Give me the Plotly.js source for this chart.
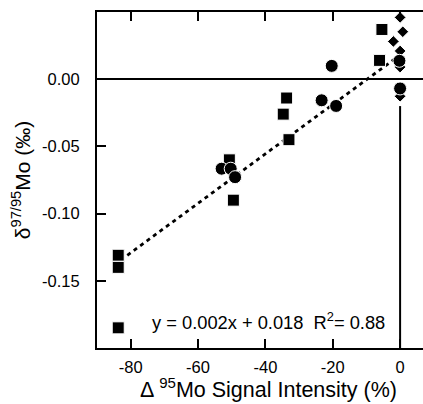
<!DOCTYPE html>
<html>
<head>
<meta charset="utf-8">
<script src="https://cdn.plot.ly/plotly-3.0.1.min.js"></script>
<style>html,body{margin:0;padding:0;background:#fff;}#chart{width:423px;height:404px;}</style>
</head>
<body>
<div id="chart"></div>
<script>
// Squares
const squaresX = [-83.7, -83.7, -83.7, -50.7, -49.5, -33.7, -34.7, -33.0, -5.4, -6.1];
const squaresY = [-0.131, -0.140, -0.185, -0.060, -0.090, -0.014, -0.026, -0.045, 0.037, 0.014];
// Diamonds
const diamondsX = [0, 0.8, -2.0, 0, 0, 0];
const diamondsY = [0.046, 0.0353, 0.0281, 0.021, 0.009, -0.0127];
// Circles
const circlesX = [-53.0, -50.3, -49.0, -23.3, -19.0, -20.3, -0.2, 0];
const circlesY = [-0.0666, -0.0666, -0.0729, -0.0157, -0.0199, 0.0099, 0.0137, -0.0069];
// Regression line end points
const fitX = [-81, 0];
const fitY = [-0.131, 0.018];
// Ticks
const xTicks = [-80, -60, -40, -20, 0];
const xTickText = ['-80', '-60', '-40', '-20', '0'];
const yTicks = [0, -0.05, -0.10, -0.15];
const yTickText = ['0.00', '-0.05', '-0.10', '-0.15'];

const FONT = 'Liberation Sans, Arial, Helvetica, sans-serif';
const mk = (sym, size) => ({symbol: sym, size: size, color: '#000', line: {color: '#fff', width: 1}});

const traces = [
  {x: fitX, y: fitY, mode: 'lines', line: {color: '#000', width: 2.8, dash: '4px,4px'}, hoverinfo: 'skip'},
  {x: squaresX, y: squaresY, mode: 'markers', marker: mk('square', 12)},
  {x: diamondsX, y: diamondsY, mode: 'markers', marker: mk('diamond', 9)},
  {x: circlesX, y: circlesY, mode: 'markers', marker: mk('circle', 13)}
];

const layout = {
  width: 423, height: 404,
  margin: {l: 97, r: 0, t: 12, b: 56},
  paper_bgcolor: '#fff', plot_bgcolor: '#fff',
  showlegend: false,
  font: {family: FONT, color: '#000', size: 17},
  xaxis: {
    range: [-90, 6.8], showgrid: false, zeroline: false,
    showline: true, linecolor: '#000', linewidth: 2, mirror: 'ticks',
    ticks: 'inside', ticklen: 9, tickwidth: 2, tickcolor: '#000',
    tickvals: xTicks, ticktext: xTickText, tickfont: {size: 16.5},
    ticklabelstandoff: 3
  },
  yaxis: {
    range: [-0.2, 0.05], showgrid: false,
    zeroline: true, zerolinecolor: '#000', zerolinewidth: 2,
    showline: true, linecolor: '#000', linewidth: 2, mirror: false,
    ticks: 'inside', ticklen: 9, tickwidth: 2, tickcolor: '#000',
    tickvals: yTicks, ticktext: yTickText, tickfont: {size: 16.5},
    ticklabelstandoff: 12,
    title: {text: 'δ<sup>97/95</sup>Mo (‰)', font: {size: 21}, standoff: 6}
  },
  shapes: [
    {type: 'line', xref: 'x', yref: 'y', x0: 0, x1: 0, y0: -0.2, y1: -0.02, layer: 'below', line: {color: '#000', width: 2}}
  ],
  annotations: [
    {text: 'y = 0.002x + 0.018  R<sup>2</sup>= 0.88', xref: 'x', yref: 'y', x: -39, y: -0.180, showarrow: false, font: {size: 18.3}, xanchor: 'center', yanchor: 'middle'},
    {text: 'Δ <sup>95</sup>Mo Signal Intensity (%)', xref: 'paper', yref: 'paper', x: 0.526, y: -0.118, showarrow: false, font: {size: 21.5}, xanchor: 'center', yanchor: 'middle'}
  ]
};

Plotly.newPlot('chart', traces, layout, {staticPlot: true, displayModeBar: false});
</script>
</body>
</html>
